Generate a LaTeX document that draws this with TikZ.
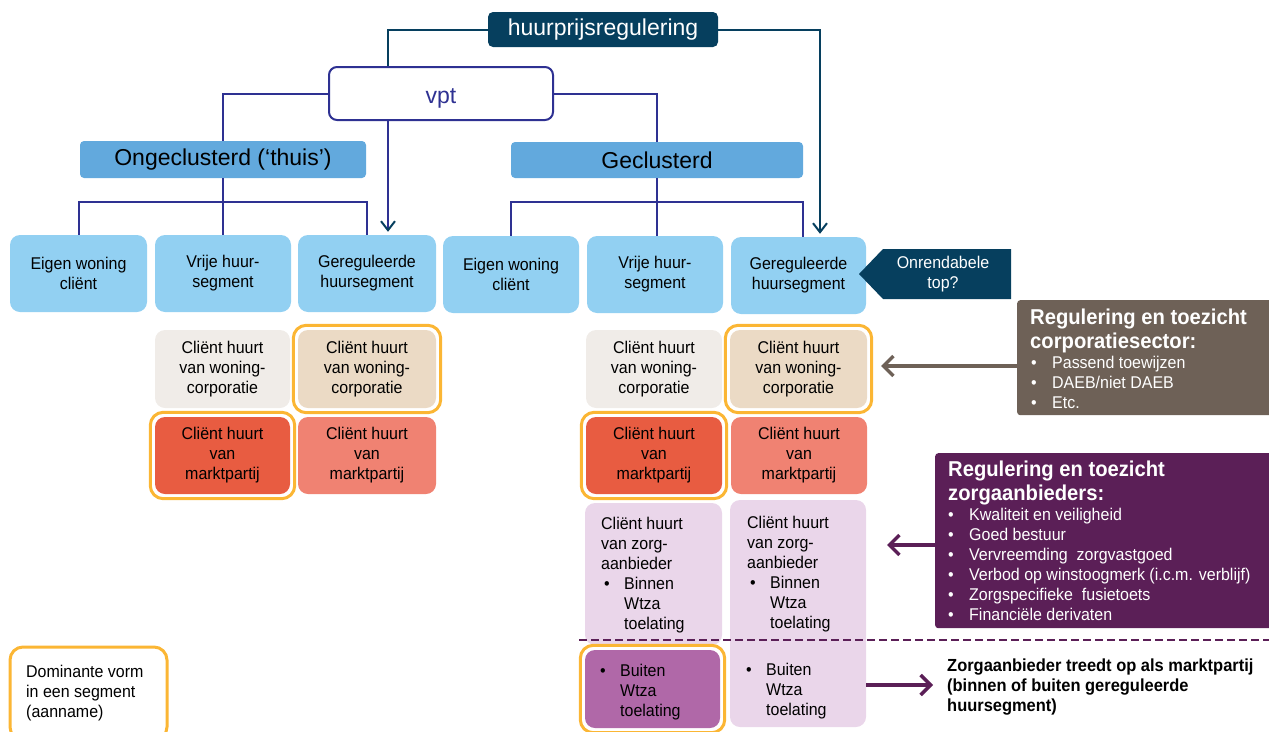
\documentclass[tikz,border=0pt]{standalone}
\usepackage{fontspec}
\setmainfont{Liberation Sans}
\newfontfamily\nar{Liberation Sans}[FakeStretch=0.94]
\usetikzlibrary{arrows.meta,fit,calc}
\definecolor{titleblue}{HTML}{063F5E}
\definecolor{navy}{HTML}{2E3192}
\definecolor{headblue}{HTML}{62A9DD}
\definecolor{segblue}{HTML}{92D0F2}
\definecolor{corpgrey}{HTML}{F0ECE8}
\definecolor{corpbeige}{HTML}{EBDAC5}
\definecolor{mred}{HTML}{E85C41}
\definecolor{msalmon}{HTML}{F08272}
\definecolor{zlight}{HTML}{EAD6EA}
\definecolor{zdark}{HTML}{B068A8}
\definecolor{hlorange}{HTML}{FBB634}
\definecolor{brownbox}{HTML}{6E6157}
\definecolor{purplebox}{HTML}{5B1F57}
\newcommand\zb{\hspace*{3pt}\makebox[20pt][l]{•}}
\newcommand\zi{\hspace*{23pt}}
\newcommand\sbul{\hspace*{2pt}\makebox[21pt][l]{•}}
\begin{document}
\begin{tikzpicture}[x=1pt,y=-1pt,
  cell/.style={rectangle, rounded corners=10pt, inner sep=0pt, align=center, font=\nar\fontsize{17}{20}\selectfont, text=black},
  seg/.style={cell, fill=segblue},
  hl/.style={draw=hlorange, line width=3pt, rounded corners=13pt, inner sep=4.5pt},
  conn/.style={draw=navy, line width=2pt},
  tconn/.style={draw=titleblue, line width=2pt},
  thinarrow/.style={-{Straight Barb[length=9pt,width=14pt,color=titleblue]}, shorten >=3pt},
  bigarrow/.style={line width=3.5pt,-{Straight Barb[length=10pt,width=20pt]}},
  ztext/.style={anchor=north west, inner sep=0pt, align=left, font=\nar\fontsize{17}{20}\selectfont},
  sidetext/.style={anchor=north west, inner sep=0pt, align=left, text=white, font=\nar\fontsize{17}{20}\selectfont},
  sidetitle/.style={anchor=north west, inner sep=0pt, align=left, text=white, font=\nar\bfseries\fontsize{21.5}{24}\selectfont},
  head/.style={rectangle, rounded corners=4pt, inner sep=0pt, fill=headblue, font=\fontsize{23}{26}\selectfont}
]
\useasboundingbox (0,0) rectangle (1269,731);
\clip (0,0) rectangle (1269,731);

% top
\node[rectangle, rounded corners=5pt, fill=titleblue, text=white, minimum width=230pt, minimum height=35pt, inner sep=0pt, font=\fontsize{23}{26}\selectfont] (title) at (603,29.5) {huurprijsregulering};
\node[rectangle, rounded corners=8pt, draw=navy, line width=2pt, fill=white, text=navy, minimum width=224pt, minimum height=53pt, inner sep=0pt, text height=19pt, text depth=0pt, font=\fontsize{23}{26}\selectfont] (vpt) at (441,93.5) {vpt};
\node[head, minimum width=286pt, minimum height=37pt] (ong) at (223,159.5) {Ongeclusterd (‘thuis’)};
\node[head, minimum width=292pt, minimum height=36pt] (gec) at (657,160) {Geclusterd};

% segments
\node[seg, minimum width=137pt, minimum height=77pt] (ew1) at (78.5,273.5) {Eigen woning\\cliënt};
\node[seg, minimum width=136pt, minimum height=77pt] (vr1) at (223,273.5) {Vrije huur-\\segment};
\node[seg, minimum width=138pt, minimum height=77pt] (gr1) at (367,273.5) {Gereguleerde\\huursegment};
\node[seg, minimum width=136pt, minimum height=77pt] (ew2) at (511,274.5) {Eigen woning\\cliënt};
\node[seg, minimum width=136pt, minimum height=77pt] (vr2) at (655,274.5) {Vrije huur-\\segment};
\node[seg, minimum width=135pt, minimum height=77pt] (gr2) at (798.5,275.5) {Gereguleerde\\huursegment};

% onrendabele top
\fill[titleblue] (859,274) -- (883,249) -- (1011,249) -- (1011,299) -- (883,299) -- cycle;
\node[align=center, text=white, inner sep=0pt, font=\nar\fontsize{17}{20}\selectfont] (onr) at (943,274) {Onrendabele\\top?};

% corporatie row
\node[cell, fill=corpgrey, minimum width=135pt, minimum height=78pt] (c1) at (222.5,369) {Cliënt huurt\\van woning-\\corporatie};
\node[cell, fill=corpbeige, minimum width=138pt, minimum height=78pt] (c2) at (367,369) {Cliënt huurt\\van woning-\\corporatie};
\node[cell, fill=corpgrey, minimum width=136pt, minimum height=78pt] (c3) at (654,369) {Cliënt huurt\\van woning-\\corporatie};
\node[cell, fill=corpbeige, minimum width=137pt, minimum height=78pt] (c4) at (798.5,369) {Cliënt huurt\\van woning-\\corporatie};
\node[hl, fit=(c2)] (c2h) {};
\node[hl, fit=(c4)] (c4h) {};

% markt row
\node[cell, fill=mred, minimum width=135pt, minimum height=77pt] (m1) at (222.5,455.5) {Cliënt huurt\\van\\marktpartij};
\node[cell, fill=msalmon, minimum width=138pt, minimum height=77pt] (m2) at (367,455.5) {Cliënt huurt\\van\\marktpartij};
\node[cell, fill=mred, minimum width=136pt, minimum height=77pt] (m3) at (654,455.5) {Cliënt huurt\\van\\marktpartij};
\node[cell, fill=msalmon, minimum width=136pt, minimum height=77pt] (m4) at (799,455.5) {Cliënt huurt\\van\\marktpartij};
\node[hl, fit=(m1)] (m1h) {};
\node[hl, fit=(m3)] (m3h) {};

% zorg cells
\node[cell, fill=zlight, minimum width=137pt, minimum height=142pt] (z1) at (653.5,574) {};
\node[cell, fill=zlight, minimum width=136pt, minimum height=227pt] (z2) at (798,613.5) {};
\node[cell, fill=zdark, minimum width=135pt, minimum height=78pt] (zb1) at (652.5,689) {};
\node[hl, fit=(zb1)] (zb1h) {};
\node[ztext] (z1t) at (601,516.5) {Cliënt huurt\\van zorg-\\aanbieder\\\zb Binnen\\\zi Wtza\\\zi toelating};
\node[ztext] (z2t) at (747,515.5) {Cliënt huurt\\van zorg-\\aanbieder\\\zb Binnen\\\zi Wtza\\\zi toelating};
\node[ztext] (zb1t) at (597,663.5) {\zb Buiten\\\zi Wtza\\\zi toelating};
\node[ztext] (zb2t) at (743,662.5) {\zb Buiten\\\zi Wtza\\\zi toelating};

% side boxes
\node[rectangle, rounded corners=3pt, fill=brownbox, anchor=north west, minimum width=262pt, minimum height=115pt, inner sep=0pt] (corp) at (1017,300) {};
\node[sidetitle] (corpt) at (1030,309) {Regulering en toezicht\\corporatiesector:};
\node[sidetext] (corpb) at (1029,356) {\sbul Passend toewijzen\\\sbul DAEB/niet DAEB\\\sbul Etc.};

\node[rectangle, rounded corners=3pt, fill=purplebox, anchor=north west, minimum width=344pt, minimum height=175pt, inner sep=0pt] (zbox) at (935,453) {};
\node[sidetitle] (zboxt) at (948,461) {Regulering en toezicht\\zorgaanbieders:};
\node[sidetext] (zboxb) at (946,508) {\sbul Kwaliteit en veiligheid\\\sbul Goed bestuur\\\sbul Vervreemding\ \ zorgvastgoed\\\sbul Verbod op winstoogmerk (i.c.m. verblijf)\\\sbul Zorgspecifieke\ \ fusietoets\\\sbul Financiële derivaten};

\node[anchor=north west, inner sep=0pt, align=left, font=\nar\bfseries\fontsize{17.5}{20}\selectfont] (mtxt) at (947,658.5) {Zorgaanbieder treedt op als marktpartij\\(binnen of buiten gereguleerde\\huursegment)};

% legend
\node[hl, inner sep=0pt, minimum width=157pt, minimum height=93pt] (leg) at (88.5,693.5) {};
\node[anchor=north west, inner sep=0pt, align=left, font=\nar\fontsize{17}{20}\selectfont] (legt) at (26,664.5) {Dominante vorm\\in een segment\\(aanname)};

% connectors
\draw[tconn] (title.west) -| ([xshift=-53pt]vpt.north);
\draw[tconn, thinarrow] (title.east) -| ([xshift=21.5pt]gr2.north);
\draw[conn] (vpt.west) -| (ong.north);
\draw[conn] (vpt.east) -| (gec.north);
\draw[conn, thinarrow] ([xshift=-53pt]vpt.south) -- ([xshift=-53pt]vpt.south |- gr1.north);
\draw[conn] (ong.south) -- (ong.south |- vr1.north);
\draw[conn] (ew1.north) -- ++(0,-33) -| (gr1.north);
\draw[conn] (gec.south) -- (gec.south |- vr2.north);
\draw[conn] (ew2.north) -- ++(0,-34) -| ([xshift=4pt]gr2.north);

\coordinate (brtip) at (881,366);
\draw[brownbox, bigarrow] (corp.west |- brtip) -- (brtip);
\coordinate (zatip) at (887,545);
\draw[purplebox, bigarrow] (zbox.west |- zatip) -- (zatip);
\coordinate (mtip) at (933,685);
\draw[purplebox, bigarrow] (z2.east |- mtip) -- (mtip);

\coordinate (dl) at (579,640);
\coordinate (dr) at (1269,640);
\draw[purplebox, line width=2.5pt, dash pattern=on 8pt off 4pt] (dl) -- (dr);
\end{tikzpicture}
\end{document}
